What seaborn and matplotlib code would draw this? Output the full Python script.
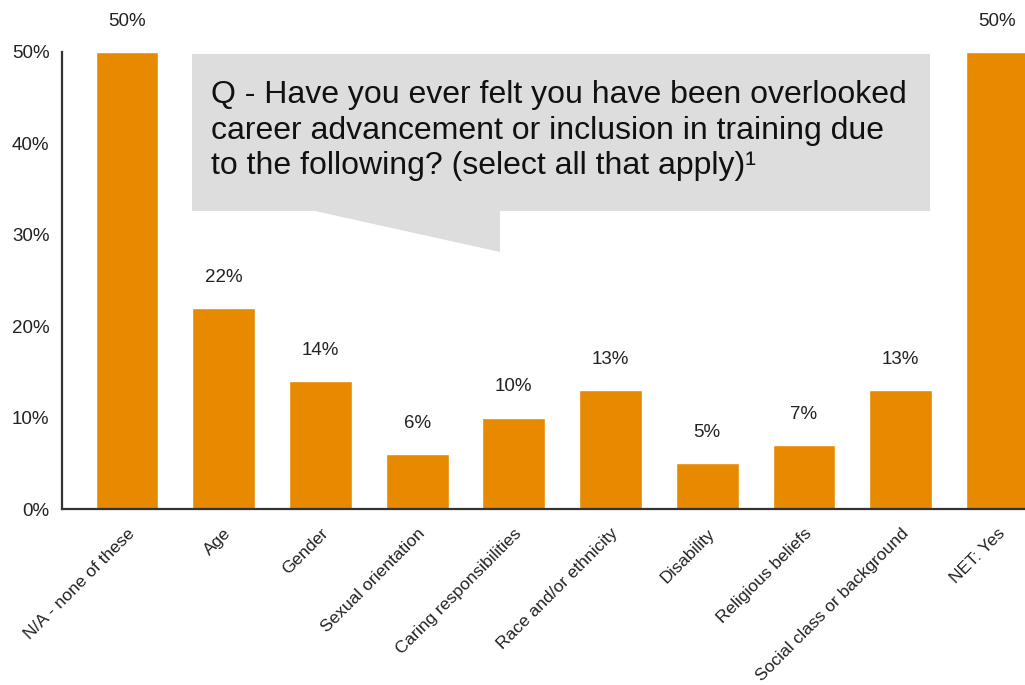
import matplotlib
matplotlib.use("Agg")
import matplotlib.pyplot as plt
from matplotlib import font_manager
from matplotlib.patches import Polygon
import seaborn as sns
import pandas as pd

categories = ["N/A - none of these", "Age", "Gender", "Sexual orientation",
              "Caring responsibilities", "Race and/or ethnicity", "Disability",
              "Religious beliefs", "Social class or background", "NET: Yes"]
values = [50, 22, 14, 6, 10, 13, 5, 7, 13, 50]
y_ticks = [0, 10, 20, 30, 40, 50]
y_tick_labels = ["0%", "10%", "20%", "30%", "40%", "50%"]
question = ("Q - Have you ever felt you have been overlooked\n"
            "career advancement or inclusion in training due\n"
            "to the following? (select all that apply)\u00b9")

BAR = "#E88A00"
TXT = "#222222"

sns.set_theme(style="white")
names = {f.name for f in font_manager.fontManager.ttflist}
base = "Liberation Sans" if "Liberation Sans" in names else "DejaVu Sans"
plt.rcParams["font.family"] = [base, "DejaVu Sans"]

W, H = 1025, 685
fig = plt.figure(figsize=(W / 100, H / 100), dpi=100)
ax = fig.add_axes([62 / W, 1 - 509 / H, 1 - 62 / W, (509 - 52) / H])

df = pd.DataFrame({"cat": categories, "val": values})
sns.barplot(data=df, x="cat", y="val", hue="cat", palette=[BAR] * len(categories),
            legend=False, width=0.65, ax=ax, saturation=1)

ax.set_xlim(-0.672, 9.286)
ax.set_ylim(0, 50)
ax.set_yticks(y_ticks)
ax.set_yticklabels(y_tick_labels, fontsize=13.5, color=TXT)
ax.set_xticks(range(len(categories)))
ax.set_xticklabels(categories, rotation=45, ha="right", rotation_mode="anchor",
                   fontsize=12.5, color=TXT)
ax.tick_params(axis="both", length=0)
ax.tick_params(axis="y", pad=9)
ax.tick_params(axis="x", pad=12)
ax.set_xlabel("")
ax.set_ylabel("")
for s in ["top", "right"]:
    ax.spines[s].set_visible(False)
for s in ["left", "bottom"]:
    ax.spines[s].set_color("#333333")
    ax.spines[s].set_linewidth(1.6)

for i, v in enumerate(values):
    ax.annotate(f"{v}%", xy=(i, v), xytext=(0, 16), textcoords="offset points",
                ha="center", va="bottom", fontsize=13.5, color=TXT,
                annotation_clip=False)

# Callout box (figure pixel coordinates, origin top-left)
def px(x, y):
    return (x / W, 1 - y / H)

box = [px(192, 54), px(930, 54), px(930, 211), px(500, 211), px(500, 252),
       px(315, 211), px(192, 211)]
fig.patches.append(Polygon(box, closed=True, transform=fig.transFigure,
                           facecolor="#DDDDDD", edgecolor="none", zorder=5))
fig.text(211 / W, 1 - 80 / H, question, ha="left", va="top", fontsize=23,
         color="#111111", linespacing=1.24, zorder=6)

fig.savefig("out.png", dpi=100)
